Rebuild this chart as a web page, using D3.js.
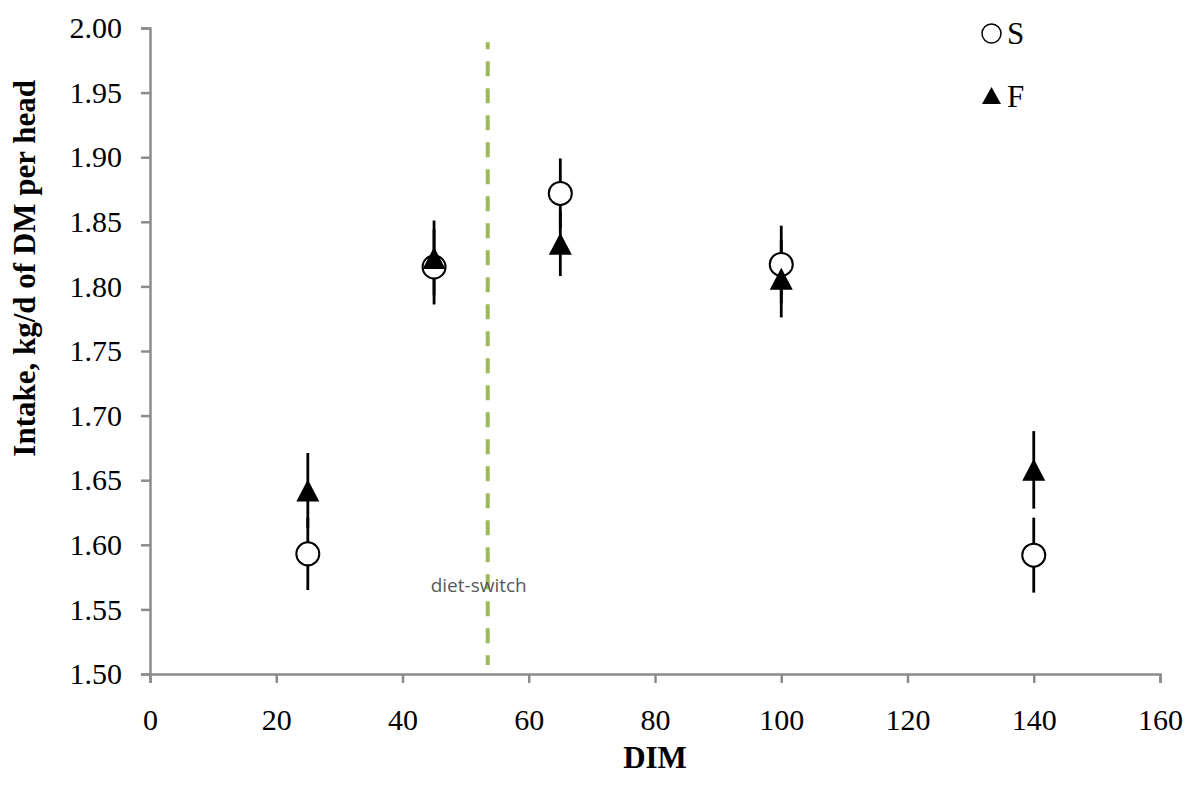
<!DOCTYPE html>
<html>
<head>
<meta charset="utf-8">
<script src="https://cdn.jsdelivr.net/npm/d3@7"></script>
<style>
  html, body { margin: 0; padding: 0; background: #fff; }
  svg { display: block; }
  text { font-family: "Liberation Serif", "Times New Roman", serif; }
</style>
</head>
<body>
<svg id="chart" width="1186" height="789"></svg>
<script>
// Days in milk at which intake was measured
const dim = [25, 45, 65, 100, 140];

// Series S: mean intake and standard error
const sMean = [1.593, 1.815, 1.872, 1.817, 1.592];
const sSE   = [0.028, 0.029, 0.027, 0.030, 0.029];

// Series F: mean intake and standard error
const fMean = [1.642, 1.822, 1.833, 1.806, 1.658];
const fSE   = [0.029, 0.029, 0.025, 0.030, 0.030];

// Axis ticks
const xTicks = [0, 20, 40, 60, 80, 100, 120, 140, 160];
const yTicks = [1.50, 1.55, 1.60, 1.65, 1.70, 1.75, 1.80, 1.85, 1.90, 1.95, 2.00];

// Diet switch marker
const dietSwitchDim = 53.5;
const dietSwitchLabel = "diet-switch";

const svg = d3.select("#chart");
const x = d3.scaleLinear().domain([0, 160]).range([150, 1160]);
const y = d3.scaleLinear().domain([1.5, 2.0]).range([674, 28]);

const axisColor = "#8c8c8c";

// Y axis
const yAxis = svg.append("g")
  .attr("transform", `translate(${x(0)},0)`)
  .call(d3.axisLeft(y).tickValues(yTicks).tickFormat(d3.format(".2f")).tickSize(9).tickPadding(19));
// X axis
const xAxis = svg.append("g")
  .attr("transform", `translate(0,${y(1.5)})`)
  .call(d3.axisBottom(x).tickValues(xTicks).tickFormat(d3.format("d")).tickSize(9).tickPadding(20));

[yAxis, xAxis].forEach(g => {
  g.select(".domain").attr("stroke", axisColor).attr("stroke-width", 2.5);
  g.selectAll(".tick line").attr("stroke", axisColor).attr("stroke-width", 2.5);
  g.selectAll(".tick text")
    .attr("fill", "#000")
    .style("font-family", '"Liberation Serif", serif')
    .style("font-size", "30px");
});
xAxis.selectAll(".tick text").attr("dy", "0.9em");

// Axis titles
svg.append("text")
  .attr("transform", "translate(35,80) rotate(-90)")
  .attr("text-anchor", "end")
  .style("font-size", "31px")
  .style("font-weight", "bold")
  .text("Intake, kg/d of DM per head");

svg.append("text")
  .attr("x", (x(0) + x(160)) / 2)
  .attr("y", 768)
  .attr("text-anchor", "middle")
  .style("font-size", "31px")
  .style("font-weight", "bold")
  .text("DIM");

// Diet switch dashed line
svg.append("line")
  .attr("x1", x(dietSwitchDim)).attr("x2", x(dietSwitchDim))
  .attr("y1", y(1.989)).attr("y2", y(1.507))
  .attr("stroke", "#9bbb59")
  .attr("stroke-width", 4)
  .attr("stroke-dasharray", "15 12")
  .attr("stroke-dashoffset", 8);

svg.append("text")
  .attr("x", x(dietSwitchDim) - 9)
  .attr("y", 592)
  .attr("text-anchor", "middle")
  .style("font-family", '"Open Sans", sans-serif')
  .style("font-size", "19px")
  .attr("fill", "#595959")
  .text(dietSwitchLabel);

const sData = dim.map((d, i) => ({ d, m: sMean[i], se: sSE[i] }));
const fData = dim.map((d, i) => ({ d, m: fMean[i], se: fSE[i] }));

// Error bars (drawn beneath all markers)
const bars = svg.append("g");
[sData, fData].forEach(data => {
  bars.selectAll(null).data(data).enter().append("line")
    .attr("x1", p => x(p.d)).attr("x2", p => x(p.d))
    .attr("y1", p => y(p.m - p.se)).attr("y2", p => y(p.m + p.se))
    .attr("stroke", "#000").attr("stroke-width", 2.8);
});

// S markers: open circles
svg.append("g").selectAll("circle").data(sData).enter().append("circle")
  .attr("cx", p => x(p.d)).attr("cy", p => y(p.m))
  .attr("r", 11.5)
  .attr("fill", "#fff").attr("stroke", "#000").attr("stroke-width", 2);

// F markers: filled triangles
const tri = (cx, cy, w, h) => `M${cx},${cy - h / 2}L${cx + w / 2},${cy + h / 2}L${cx - w / 2},${cy + h / 2}Z`;
svg.append("g").selectAll("path").data(fData).enter().append("path")
  .attr("d", p => tri(x(p.d), y(p.m), 23, 22))
  .attr("fill", "#000");

// Legend
const legend = svg.append("g");
legend.append("circle").attr("cx", 991.5).attr("cy", 33.5).attr("r", 9.5)
  .attr("fill", "#fff").attr("stroke", "#000").attr("stroke-width", 1.5);
legend.append("text").attr("x", 1007).attr("y", 44).style("font-size", "31px").text("S");
legend.append("path").attr("d", tri(991.5, 95.5, 19, 17)).attr("fill", "#000");
legend.append("text").attr("x", 1007).attr("y", 107).style("font-size", "31px").text("F");
</script>
</body>
</html>
